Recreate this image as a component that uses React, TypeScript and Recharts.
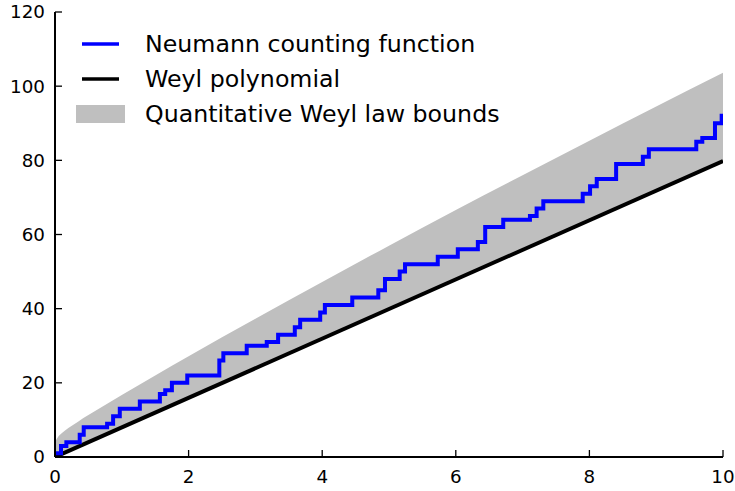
import React from 'react';
import { ComposedChart, Line, Area, XAxis, YAxis } from 'recharts';

// Neumann counting function: jump locations and new values
const neumannX = [0, 0.09, 0.17, 0.37, 0.43, 0.78, 0.87, 0.97, 1.27, 1.57, 1.65, 1.75, 1.98, 2.46, 2.52, 2.87, 3.17, 3.34, 3.59, 3.67, 3.97, 4.04, 4.45, 4.84, 4.94, 5.16, 5.24, 5.73, 6.03, 6.33, 6.44, 6.71, 7.11, 7.21, 7.31, 7.9, 8.01, 8.11, 8.4, 8.8, 8.89, 9.6, 9.69, 9.88, 9.98, 10];
const neumannN = [1, 3, 4, 6, 8, 9, 11, 13, 15, 17, 18, 20, 22, 26, 28, 30, 31, 33, 35, 37, 39, 41, 43, 45, 48, 50, 52, 54, 56, 58, 62, 64, 65, 67, 69, 71, 73, 75, 79, 81, 83, 85, 86, 90, 92, 92];

// Weyl polynomial
const weylX = [0, 10];
const weylN = [0, 79.8];

// Quantitative Weyl law bounds
const boundX = [0, 0.05, 0.1, 0.2, 0.35, 0.5, 0.75, 1, 1.5, 2, 2.5, 3, 4, 5, 6, 7, 8, 9, 10];
const boundLower = [0, 0.4, 0.8, 1.6, 2.8, 4, 6, 8, 12, 16, 20, 23.9, 31.9, 39.9, 47.9, 55.9, 63.8, 71.8, 79.8];
const boundUpper = [4, 5.5, 6.4, 7.8, 9.6, 11.3, 14, 16.7, 22, 27.2, 32.3, 37.3, 47.2, 57, 66.6, 76, 85.3, 94.5, 103.6];

const xTicks = [0, 2, 4, 6, 8, 10];
const yTicks = [0, 20, 40, 60, 80, 100, 120];

const legendLabels = ['Neumann counting function', 'Weyl polynomial', 'Quantitative Weyl law bounds'];

const FONT = '"DejaVu Sans", sans-serif';

const neumannData = neumannX.map((x, i) => ({ x, n: neumannN[i] }));
const weylData = weylX.map((x, i) => ({ x, w: weylN[i] }));
const boundData = boundX.map((x, i) => ({ x, range: [boundLower[i], boundUpper[i]] }));

export default function App() {
  const tickStyle = { fontSize: 18.3, fill: '#000', fontFamily: FONT };
  return (
    <div style={{ position: 'absolute', left: 0, top: 0, width: 735, height: 491, background: '#fff' }}>
      <ComposedChart width={735} height={491} margin={{ top: 12, right: 12, bottom: 0, left: 0 }}>
        <XAxis
          dataKey="x"
          type="number"
          domain={[0, 10]}
          ticks={xTicks}
          allowDataOverflow
          height={34}
          axisLine={{ stroke: '#000', strokeWidth: 2 }}
          tickLine={{ stroke: '#000', strokeWidth: 1.3 }}
          tickSize={-7}
          tickMargin={20}
          tick={tickStyle}
        />
        <YAxis
          type="number"
          domain={[0, 120]}
          ticks={yTicks}
          allowDataOverflow
          width={55}
          axisLine={{ stroke: '#000', strokeWidth: 2 }}
          tickLine={{ stroke: '#000', strokeWidth: 1.3 }}
          tickSize={-7}
          tickMargin={17}
          tick={tickStyle}
        />
        <Area
          data={boundData}
          dataKey="range"
          type="monotone"
          stroke="none"
          fill="#bfbfbf"
          fillOpacity={1}
          isAnimationActive={false}
        />
        <Line
          data={weylData}
          dataKey="w"
          type="linear"
          stroke="#000"
          strokeWidth={4}
          dot={false}
          activeDot={false}
          isAnimationActive={false}
        />
        <Line
          data={neumannData}
          dataKey="n"
          type="stepAfter"
          stroke="#0000ff"
          strokeWidth={4}
          dot={false}
          activeDot={false}
          isAnimationActive={false}
        />
      </ComposedChart>
      <div style={{ position: 'absolute', left: 76, top: 27, fontFamily: FONT, fontSize: 23.7, color: '#000' }}>
        {legendLabels.map((label, i) => (
          <div key={label} style={{ display: 'flex', alignItems: 'center', height: 35, lineHeight: '35px', whiteSpace: 'nowrap' }}>
            <svg width={69} height={35} style={{ flex: 'none' }}>
              {i === 0 && <line x1={6} x2={43} y1={17} y2={17} stroke="#0000ff" strokeWidth={3.5} />}
              {i === 1 && <line x1={6} x2={43} y1={17} y2={17} stroke="#000" strokeWidth={3.5} />}
              {i === 2 && <rect x={0} y={8} width={49} height={18} fill="#bfbfbf" />}
            </svg>
            <span>{label}</span>
          </div>
        ))}
      </div>
    </div>
  );
}
